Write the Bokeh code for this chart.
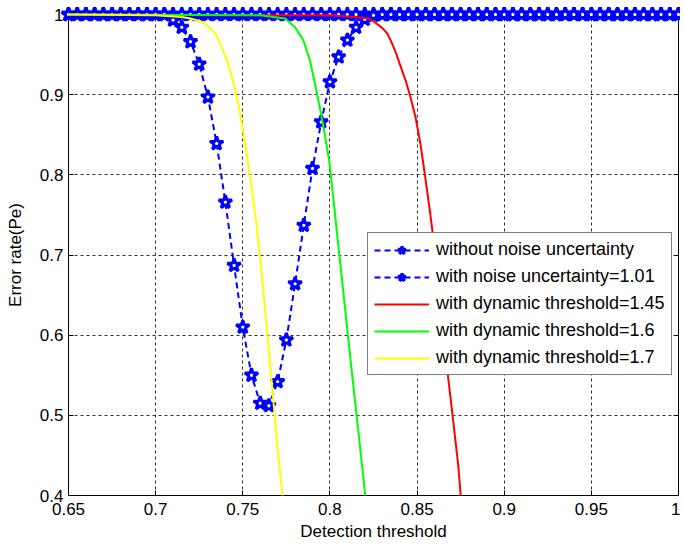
from bokeh.plotting import figure
from bokeh.models import Range1d, FixedTicker, LinearAxis, Legend, LegendItem
from bokeh.embed import file_html
from bokeh.resources import INLINE

# ---- data ----
x_grid = [0.65, 0.655, 0.66, 0.665, 0.67, 0.675, 0.68, 0.685, 0.69, 0.695,
          0.70, 0.705, 0.71, 0.715, 0.72, 0.725, 0.73, 0.735, 0.74, 0.745,
          0.75, 0.755, 0.76, 0.765, 0.77, 0.775, 0.78, 0.785, 0.79, 0.795,
          0.80, 0.805, 0.81, 0.815, 0.82, 0.825, 0.83, 0.835, 0.84, 0.845,
          0.85, 0.855, 0.86, 0.865, 0.87, 0.875, 0.88, 0.885, 0.89, 0.895,
          0.90, 0.905, 0.91, 0.915, 0.92, 0.925, 0.93, 0.935, 0.94, 0.945,
          0.95, 0.955, 0.96, 0.965, 0.97, 0.975, 0.98, 0.985, 0.99, 0.995, 1.0]

no_noise_pe = [1.0] * 71

noise_pe = ([1.0] * 12 +
            [0.993, 0.984, 0.966, 0.938, 0.897, 0.839, 0.766, 0.687, 0.610, 0.550,
             0.515, 0.512, 0.542, 0.594, 0.664, 0.737, 0.808, 0.866, 0.916, 0.947,
             0.968, 0.984, 0.994, 0.999] +
            [1.0] * 35)

dyn145_x = [0.65, 0.77, 0.80, 0.815, 0.822, 0.8254, 0.8301, 0.833, 0.8348, 0.8377,
            0.8406, 0.8434, 0.8462, 0.8491, 0.8519, 0.8547, 0.8576, 0.8605, 0.863,
            0.8655, 0.868, 0.8709, 0.8737, 0.875]
dyn145_pe = [1.0, 0.999, 0.999, 0.997, 0.995, 0.991, 0.983, 0.976, 0.968, 0.953,
             0.935, 0.918, 0.897, 0.872, 0.839, 0.797, 0.751, 0.70, 0.648,
             0.597, 0.544, 0.490, 0.436, 0.40]

dyn16_x = [0.65, 0.76, 0.7743, 0.78, 0.7847, 0.7885, 0.7914, 0.7942, 0.797, 0.7998,
           0.8021, 0.8045, 0.8074, 0.8102, 0.8131, 0.816, 0.8188, 0.8203]
dyn16_pe = [1.0, 0.999, 0.995, 0.984, 0.968, 0.943, 0.914, 0.884, 0.851, 0.814,
            0.768, 0.718, 0.660, 0.602, 0.544, 0.486, 0.430, 0.40]

dyn17_x = [0.65, 0.70, 0.715, 0.72, 0.725, 0.73, 0.735, 0.74, 0.7425, 0.745,
           0.7475, 0.75, 0.7525, 0.755, 0.7575, 0.76, 0.7625, 0.765, 0.7675, 0.77, 0.7728]
dyn17_pe = [1.0, 0.999, 0.997, 0.995, 0.992, 0.986, 0.974, 0.948, 0.932, 0.912,
            0.888, 0.857, 0.822, 0.785, 0.744, 0.695, 0.640, 0.580, 0.520, 0.457, 0.40]

x_ticks = [0.65, 0.7, 0.75, 0.8, 0.85, 0.9, 0.95, 1.0]
x_tick_labels = ["0.65", "0.7", "0.75", "0.8", "0.85", "0.9", "0.95", "1"]
y_ticks = [0.4, 0.5, 0.6, 0.7, 0.8, 0.9, 1.0]
y_tick_labels = ["0.4", "0.5", "0.6", "0.7", "0.8", "0.9", "1"]

labels = ["without noise uncertainty", "with noise uncertainty=1.01",
          "with dynamic threshold=1.45", "with dynamic threshold=1.6",
          "with dynamic threshold=1.7"]

FONT = "Liberation Sans"

p = figure(frame_width=610, frame_height=481,
           x_range=Range1d(0.65, 1.0), y_range=Range1d(0.4, 1.0),
           min_border_left=68, min_border_top=14, min_border_bottom=47, min_border_right=2,
           output_backend="svg", toolbar_location=None)
p.background_fill_color = "white"
p.border_fill_color = "white"
p.outline_line_color = "black"
p.outline_line_width = 1

# axes
for ax, ticks, labs, lab in [(p.xaxis[0], x_ticks, x_tick_labels, "Detection threshold"),
                             (p.yaxis[0], y_ticks, y_tick_labels, "Error rate(Pe)")]:
    ax.ticker = FixedTicker(ticks=ticks)
    ax.major_label_overrides = {t: s for t, s in zip(ticks, labs)}
    ax.major_tick_in = 5
    ax.major_tick_out = 0
    ax.minor_tick_in = 0
    ax.minor_tick_out = 0
    ax.axis_line_color = "black"
    ax.major_tick_line_color = "black"
    ax.major_label_text_font = FONT
    ax.major_label_text_font_size = "17px"
    ax.major_label_text_color = "black"
    ax.axis_label = lab
    ax.axis_label_text_font = FONT
    ax.axis_label_text_font_size = "17px"
    ax.axis_label_text_font_style = "normal"
    ax.axis_label_text_color = "black"
p.xaxis[0].major_label_standoff = 7
p.xaxis[0].axis_label_standoff = 4
p.yaxis[0].major_label_standoff = 5
p.yaxis[0].axis_label_standoff = 12

# box ticks on right and top
r_ax = LinearAxis(ticker=FixedTicker(ticks=y_ticks),
                  major_label_overrides={t: "" for t in y_ticks},
                  major_tick_in=5, major_tick_out=0, minor_tick_in=0, minor_tick_out=0,
                  major_label_standoff=0, axis_line_color=None)
p.add_layout(r_ax, "right")
t_ax = LinearAxis(ticker=FixedTicker(ticks=x_ticks),
                  major_label_overrides={t: "" for t in x_ticks},
                  major_tick_in=5, major_tick_out=0, minor_tick_in=0, minor_tick_out=0,
                  major_label_standoff=0, axis_line_color=None)
p.add_layout(t_ax, "above")

p.grid.grid_line_color = "#303030"
p.grid.grid_line_dash = "3 3"
p.grid.grid_line_width = 1
p.xgrid.ticker = FixedTicker(ticks=x_ticks)
p.ygrid.ticker = FixedTicker(ticks=y_ticks)

BLUE = "#0000ff"
OV = "overlay"
l1 = p.line(x_grid, no_noise_pe, line_color=BLUE, line_width=2, line_dash="6 4", level=OV)
s1 = p.scatter(x_grid, no_noise_pe, marker="star", size=14, line_color=BLUE,
               fill_color="white", line_width=3, level=OV)
l2 = p.line(x_grid, noise_pe, line_color=BLUE, line_width=2, line_dash="6 4", level=OV)
s2 = p.scatter(x_grid, noise_pe, marker="star", size=14, line_color=BLUE,
               fill_color="white", line_width=3, level=OV)
l3 = p.line(dyn145_x, dyn145_pe, line_color="#ff0000", line_width=2, level=OV)
l4 = p.line(dyn16_x, dyn16_pe, line_color="#00ff00", line_width=2, level=OV)
l5 = p.line(dyn17_x, dyn17_pe, line_color="#ffff00", line_width=2, level=OV)

legend = Legend(items=[LegendItem(label=labels[0], renderers=[l1, s1]),
                       LegendItem(label=labels[1], renderers=[l2, s2]),
                       LegendItem(label=labels[2], renderers=[l3]),
                       LegendItem(label=labels[3], renderers=[l4]),
                       LegendItem(label=labels[4], renderers=[l5])],
                location=(299, 120))
legend.level = OV
legend.border_line_color = "black"
legend.border_line_width = 1
legend.background_fill_color = "white"
legend.background_fill_alpha = 1.0
legend.padding = 6
legend.margin = 0
legend.spacing = 6
legend.glyph_width = 55
legend.glyph_height = 20
legend.label_height = 20
legend.label_standoff = 7
legend.label_text_font = FONT
legend.label_text_font_size = "18px"
legend.label_text_color = "black"
p.add_layout(legend, "center")

open("out.html", "w").write(file_html(p, INLINE))
